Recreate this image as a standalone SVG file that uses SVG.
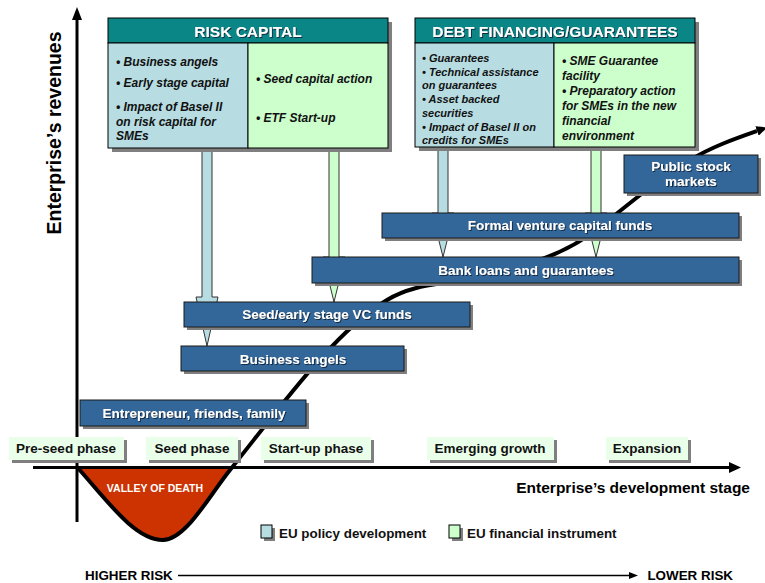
<svg xmlns="http://www.w3.org/2000/svg" width="765" height="583" viewBox="0 0 765 583">
<style>
.t{font-family:"Liberation Sans",Arial,sans-serif;font-weight:bold}
.sh{fill:#7f7f7f}
.node{fill:#336699;stroke:#1a1a1a;stroke-width:1}
.nt{font-size:13.5px;fill:#fff;text-anchor:middle;filter:url(#ts)}
.hdr{fill:#0b8686;stroke:#000;stroke-width:1}
.hd{font-size:15.5px;fill:#fff;text-anchor:middle;filter:url(#ts)}
.pb{fill:#b7dde2;stroke:#000;stroke-width:1}
.pg{fill:#ccffcc;stroke:#000;stroke-width:1}
.bi{font-style:italic;fill:#111}
.ph{fill:#eaffea}
.pt{font-size:13.5px;fill:#111;text-anchor:middle}
.ax{stroke:#000;stroke-width:3;fill:none}
.arb{fill:#b7dde2;stroke:#333;stroke-width:1}
.arg{fill:#ccffcc;stroke:#333;stroke-width:1}
</style>
<defs>
<filter id="ts" x="-5%" y="-20%" width="110%" height="140%"><feDropShadow dx="1" dy="1" stdDeviation="0.3" flood-color="#10203a" flood-opacity="0.9"/></filter>
<marker id="ah" markerWidth="12" markerHeight="10" refX="0" refY="5" orient="auto" markerUnits="userSpaceOnUse"><path d="M0,0 L11,5 L0,10 Z" fill="#000"/></marker>
</defs>
<rect width="765" height="583" fill="#fff"/>

<g id="valley">
<path d="M77,467 C105.7,498.6 134.3,540 163,540 C185.3,540 207.7,497.9 230,470 L232,467 Z" fill="#cc3300"/>
<text class="t" x="155" y="492" font-size="10.5" fill="#fff" text-anchor="middle">VALLEY OF DEATH</text>
</g>

<g id="connectors">
<line class="ax" x1="77" y1="18" x2="77" y2="522"/>
<polygon points="72,20 77,7 82,20" fill="#000"/>
<line class="ax" x1="33" y1="467.5" x2="731" y2="467.5"/>
<polygon points="729,462 741,467.5 729,473" fill="#000"/>
<path d="M77,467 C105.7,498.6 134.3,540 163,540 C185.3,540 207.7,497.9 230,470 C282.3,404.6 334.7,331.4 387,300 C414.7,283.4 442.3,284.9 470,278 C513.3,267.2 556.7,261.6 600,227 C630,203 660,178 690,160 C712.3,146.6 734.7,138.8 757,131" fill="none" stroke="#000" stroke-width="4" marker-end="url(#ah)"/>
<path class="arb" d="M202,148 V297 H196 L207,346 L218,297 H212 V148 Z"/>
<path class="arg" d="M329,148 V257 H323 L334,302 L345,257 H339 V148 Z"/>
<path class="arb" d="M438,147 V213 H432 L443,257 L454,213 H448 V147 Z"/>
<path class="arg" d="M591,147 V213 H585 L596,257 L607,213 H601 V147 Z"/>
<line x1="178" y1="575.5" x2="630" y2="575.5" stroke="#000" stroke-width="1.5"/>
<polygon points="629,572 638,575.5 629,579" fill="#000"/>
</g>

<g id="public-stock">
<rect class="sh" x="627" y="158" width="134" height="38"/>
<rect class="node" x="624" y="155" width="134" height="38"/>
<text class="t nt" x="691" y="171">Public stock</text>
<text class="t nt" x="691" y="186">markets</text>
</g>
<g id="formal-vc">
<rect class="sh" x="385" y="216" width="357" height="25"/>
<rect class="node" x="382" y="213" width="357" height="25"/>
<text class="t nt" x="560" y="230">Formal venture capital funds</text>
</g>
<g id="bank-loans">
<rect class="sh" x="315" y="260" width="427" height="26"/>
<rect class="node" x="312" y="257" width="427" height="26"/>
<text class="t nt" x="526" y="275">Bank loans and guarantees</text>
</g>
<g id="seed-vc">
<rect class="sh" x="187" y="305" width="286" height="25"/>
<rect class="node" x="184" y="302" width="286" height="25"/>
<text class="t nt" x="327" y="319">Seed/early stage VC funds</text>
</g>
<g id="business-angels">
<rect class="sh" x="184" y="349" width="223" height="25"/>
<rect class="node" x="181" y="346" width="223" height="25"/>
<text class="t nt" x="293" y="363.5">Business angels</text>
</g>
<g id="entrepreneur">
<rect class="sh" x="83" y="403" width="226" height="26"/>
<rect class="node" x="80" y="400" width="226" height="26"/>
<text class="t nt" x="194" y="417.5">Entrepreneur, friends, family</text>
</g>

<g id="phases">
<g id="pre-seed"><rect class="sh" x="12" y="440" width="115" height="23"/><rect class="ph" x="9" y="437" width="115" height="23"/><text class="t pt" x="66" y="453">Pre-seed phase</text></g>
<g id="seed"><rect class="sh" x="149" y="440" width="92" height="23"/><rect class="ph" x="146" y="437" width="92" height="23"/><text class="t pt" x="192" y="453">Seed phase</text></g>
<g id="start-up"><rect class="sh" x="264" y="440" width="110" height="23"/><rect class="ph" x="261" y="437" width="110" height="23"/><text class="t pt" x="316" y="453">Start-up phase</text></g>
<g id="emerging"><rect class="sh" x="430" y="440" width="127" height="23"/><rect class="ph" x="427" y="437" width="127" height="23"/><text class="t pt" x="490" y="453">Emerging growth</text></g>
<g id="expansion"><rect class="sh" x="609" y="440" width="82" height="23"/><rect class="ph" x="606" y="437" width="82" height="23"/><text class="t pt" x="647" y="453">Expansion</text></g>
</g>

<g id="risk-capital">
<rect class="sh" x="112" y="22" width="280" height="130"/>
<rect class="hdr" x="108" y="18" width="280" height="25"/>
<text class="t hd" x="248" y="36.5">RISK CAPITAL</text>
<rect class="pb" x="108" y="43" width="140" height="105"/>
<rect class="pg" x="248" y="43" width="140" height="105"/>
<g class="t bi" font-size="12">
<text x="116" y="66">• Business angels</text>
<text x="116" y="87">• Early stage capital</text>
<text x="116" y="111">• Impact of Basel II</text>
<text x="116" y="125.5">on risk capital for</text>
<text x="116" y="140">SMEs</text>
<text x="256" y="83">• Seed capital action</text>
<text x="256" y="122">• ETF Start-up</text>
</g>
</g>

<g id="debt-financing">
<rect class="sh" x="419" y="22" width="280" height="129"/>
<rect class="hdr" x="415" y="18" width="280" height="25"/>
<text class="t hd" x="555" y="36.5">DEBT FINANCING/GUARANTEES</text>
<rect class="pb" x="415" y="43" width="139" height="104"/>
<rect class="pg" x="554" y="43" width="141" height="104"/>
<g class="t bi" font-size="11">
<text x="422" y="62">• Guarantees</text>
<text x="422" y="75.7">• Technical assistance</text>
<text x="422" y="89.4">on guarantees</text>
<text x="422" y="103">• Asset backed</text>
<text x="422" y="117">securities</text>
<text x="422" y="130.5">• Impact of Basel II on</text>
<text x="422" y="144">credits for SMEs</text>
</g>
<g class="t bi" font-size="12">
<text x="562" y="65">• SME Guarantee</text>
<text x="562" y="80">facility</text>
<text x="562" y="95">• Preparatory action</text>
<text x="562" y="110">for SMEs in the new</text>
<text x="562" y="125">financial</text>
<text x="562" y="140">environment</text>
</g>
</g>

<g id="axis-labels">
<text class="t" x="0" y="0" font-size="19.5" fill="#000" text-anchor="middle" transform="translate(61,133) rotate(-90)">Enterprise’s revenues</text>
<text class="t" x="750" y="493" font-size="15.5" fill="#000" text-anchor="end">Enterprise’s development stage</text>
<text class="t" x="85" y="580" font-size="13.4" fill="#000">HIGHER RISK</text>
<text class="t" x="733" y="580" font-size="13.4" fill="#000" text-anchor="end">LOWER RISK</text>
</g>

<g id="legend">
<rect class="sh" x="264" y="528" width="11" height="13"/>
<rect class="pb" x="261" y="525" width="11" height="13"/>
<text class="t" x="279" y="537.5" font-size="13.4" fill="#111">EU policy development</text>
<rect class="sh" x="452" y="528" width="11" height="13"/>
<rect class="pg" x="449" y="525" width="11" height="13"/>
<text class="t" x="467" y="537.5" font-size="13.4" fill="#111">EU financial instrument</text>
</g>
</svg>
